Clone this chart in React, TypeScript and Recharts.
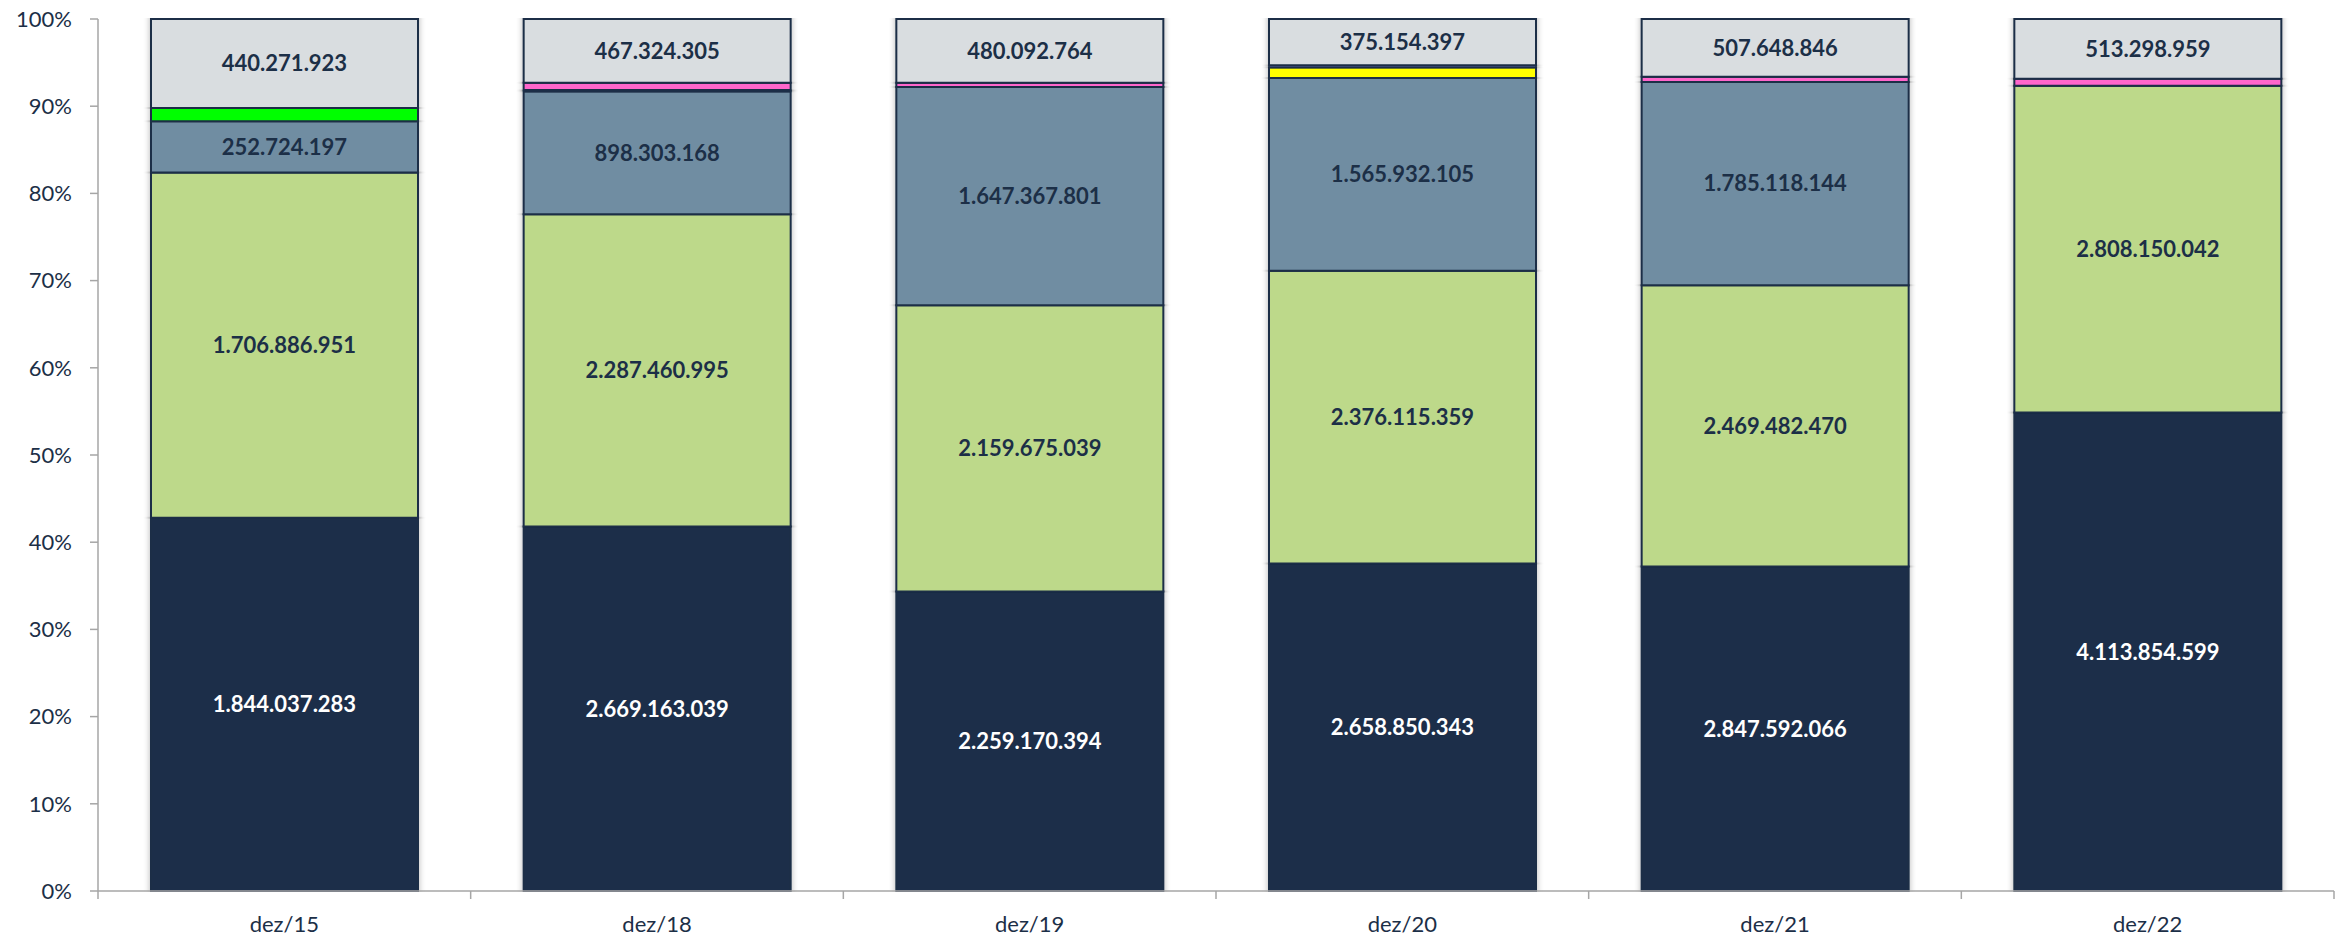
import { BarChart, Bar, XAxis, YAxis, LabelList } from "recharts";

const categories = ["dez/15", "dez/18", "dez/19", "dez/20", "dez/21", "dez/22"];

// bottom -> top
const navy = [1844037283, 2669163039, 2259170394, 2658850343, 2847592066, 4113854599];
const lightGreen = [1706886951, 2287460995, 2159675039, 2376115359, 2469482470, 2808150042];
const steel = [252724197, 898303168, 1647367801, 1565932105, 1785118144, 0];
const darkGreen = [0, 12000000, 0, 0, 0, 0];
const green = [65000000, 0, 0, 0, 0, 0];
const yellow = [0, 0, 0, 85000000, 0, 0];
const pink = [0, 52000000, 33000000, 0, 45000000, 60000000];
const violet = [0, 0, 0, 18000000, 0, 0];
const gray = [440271923, 467324305, 480092764, 375154397, 507648846, 513298959];

const yTicks = [0, 0.1, 0.2, 0.3, 0.4, 0.5, 0.6, 0.7, 0.8, 0.9, 1];

const data = categories.map((name, i) => ({
  name,
  navy: navy[i],
  lightGreen: lightGreen[i],
  steel: steel[i],
  darkGreen: darkGreen[i],
  green: green[i],
  yellow: yellow[i],
  pink: pink[i],
  violet: violet[i],
  gray: gray[i],
}));

const FONT = "Lato, 'Open Sans', sans-serif";
const TEXT = "#1C2F47";
const AXIS = "#A6A6A6";
const BORDER = "#1C2F47";

const fmt = (v: any) =>
  v ? String(v).replace(/\B(?=(\d{3})+(?!\d))/g, ".") : "";

function CategoryTick(props: any) {
  const { x, y, payload } = props;
  const off = payload.offset || 0;
  const last = payload.value === categories[categories.length - 1];
  return (
    <g>
      <line x1={x - off} y1={y} x2={x - off} y2={y + 8} stroke={AXIS} strokeWidth={1.5} />
      {last && <line x1={x + off} y1={y} x2={x + off} y2={y + 8} stroke={AXIS} strokeWidth={1.5} />}
      <text x={x} y={y + 41} textAnchor="middle" fill={TEXT} fontSize={22} fontFamily={FONT}>
        {payload.value}
      </text>
    </g>
  );
}

const labelStyle = { fontSize: 22, fontWeight: 700, fontFamily: FONT };

export default function App() {
  return (
    <div style={{ width: 2344, height: 938, background: "#fff" }}>
      <style>{`body{margin:0}.recharts-bar-rectangle path{filter:url(#barShadow)}`}</style>
      <BarChart
        width={2344}
        height={938}
        data={data}
        stackOffset="expand"
        barCategoryGap={53}
        margin={{ top: 19, right: 10, left: 0, bottom: 0 }}
      >
        <defs>
          <filter id="barShadow" filterUnits="userSpaceOnUse" x="0" y="0" width="2344" height="938">
            <feGaussianBlur in="SourceAlpha" stdDeviation="3 0" />
            <feComponentTransfer>
              <feFuncA type="linear" slope="0.3" />
            </feComponentTransfer>
            <feMerge>
              <feMergeNode />
              <feMergeNode in="SourceGraphic" />
            </feMerge>
          </filter>
        </defs>
        <XAxis
          dataKey="name"
          height={47}
          interval={0}
          tickLine={false}
          tickSize={0}
          tickMargin={0}
          axisLine={{ stroke: AXIS, strokeWidth: 1.5 }}
          tick={<CategoryTick />}
        />
        <YAxis
          width={98}
          type="number"
          domain={[0, 1]}
          ticks={yTicks}
          interval={0}
          tickFormatter={(v: number) => `${Math.round(v * 100)}%`}
          tickSize={8}
          tickMargin={18}
          tickLine={{ stroke: AXIS, strokeWidth: 1.5 }}
          axisLine={{ stroke: AXIS, strokeWidth: 1.5 }}
          tick={{ fill: TEXT, fontSize: 22, fontFamily: FONT }}
        />
        <Bar dataKey="navy" stackId="a" fill="#1B2F48" stroke={BORDER} strokeWidth={2} isAnimationActive={false}>
          <LabelList dataKey="navy" position="center" formatter={fmt} fill="#FFFFFF" style={labelStyle} />
        </Bar>
        <Bar dataKey="lightGreen" stackId="a" fill="#BDD98A" stroke={BORDER} strokeWidth={2} isAnimationActive={false}>
          <LabelList dataKey="lightGreen" position="center" formatter={fmt} fill={TEXT} style={labelStyle} />
        </Bar>
        <Bar dataKey="steel" stackId="a" fill="#6F8DA2" stroke={BORDER} strokeWidth={2} isAnimationActive={false}>
          <LabelList dataKey="steel" position="center" formatter={fmt} fill={TEXT} style={labelStyle} />
        </Bar>
        <Bar dataKey="darkGreen" stackId="a" fill="#00B050" stroke={BORDER} strokeWidth={1.5} isAnimationActive={false} />
        <Bar dataKey="green" stackId="a" fill="#00FF00" stroke={BORDER} strokeWidth={2} isAnimationActive={false} />
        <Bar dataKey="yellow" stackId="a" fill="#FFFF00" stroke={BORDER} strokeWidth={2} isAnimationActive={false} />
        <Bar dataKey="pink" stackId="a" fill="#FF66CC" stroke={BORDER} strokeWidth={2} isAnimationActive={false} />
        <Bar dataKey="violet" stackId="a" fill="#4F5B9A" stroke={BORDER} strokeWidth={1.5} isAnimationActive={false} />
        <Bar dataKey="gray" stackId="a" fill="#D9DDE0" stroke={BORDER} strokeWidth={2} isAnimationActive={false}>
          <LabelList dataKey="gray" position="center" formatter={fmt} fill={TEXT} style={labelStyle} />
        </Bar>
      </BarChart>
    </div>
  );
}
